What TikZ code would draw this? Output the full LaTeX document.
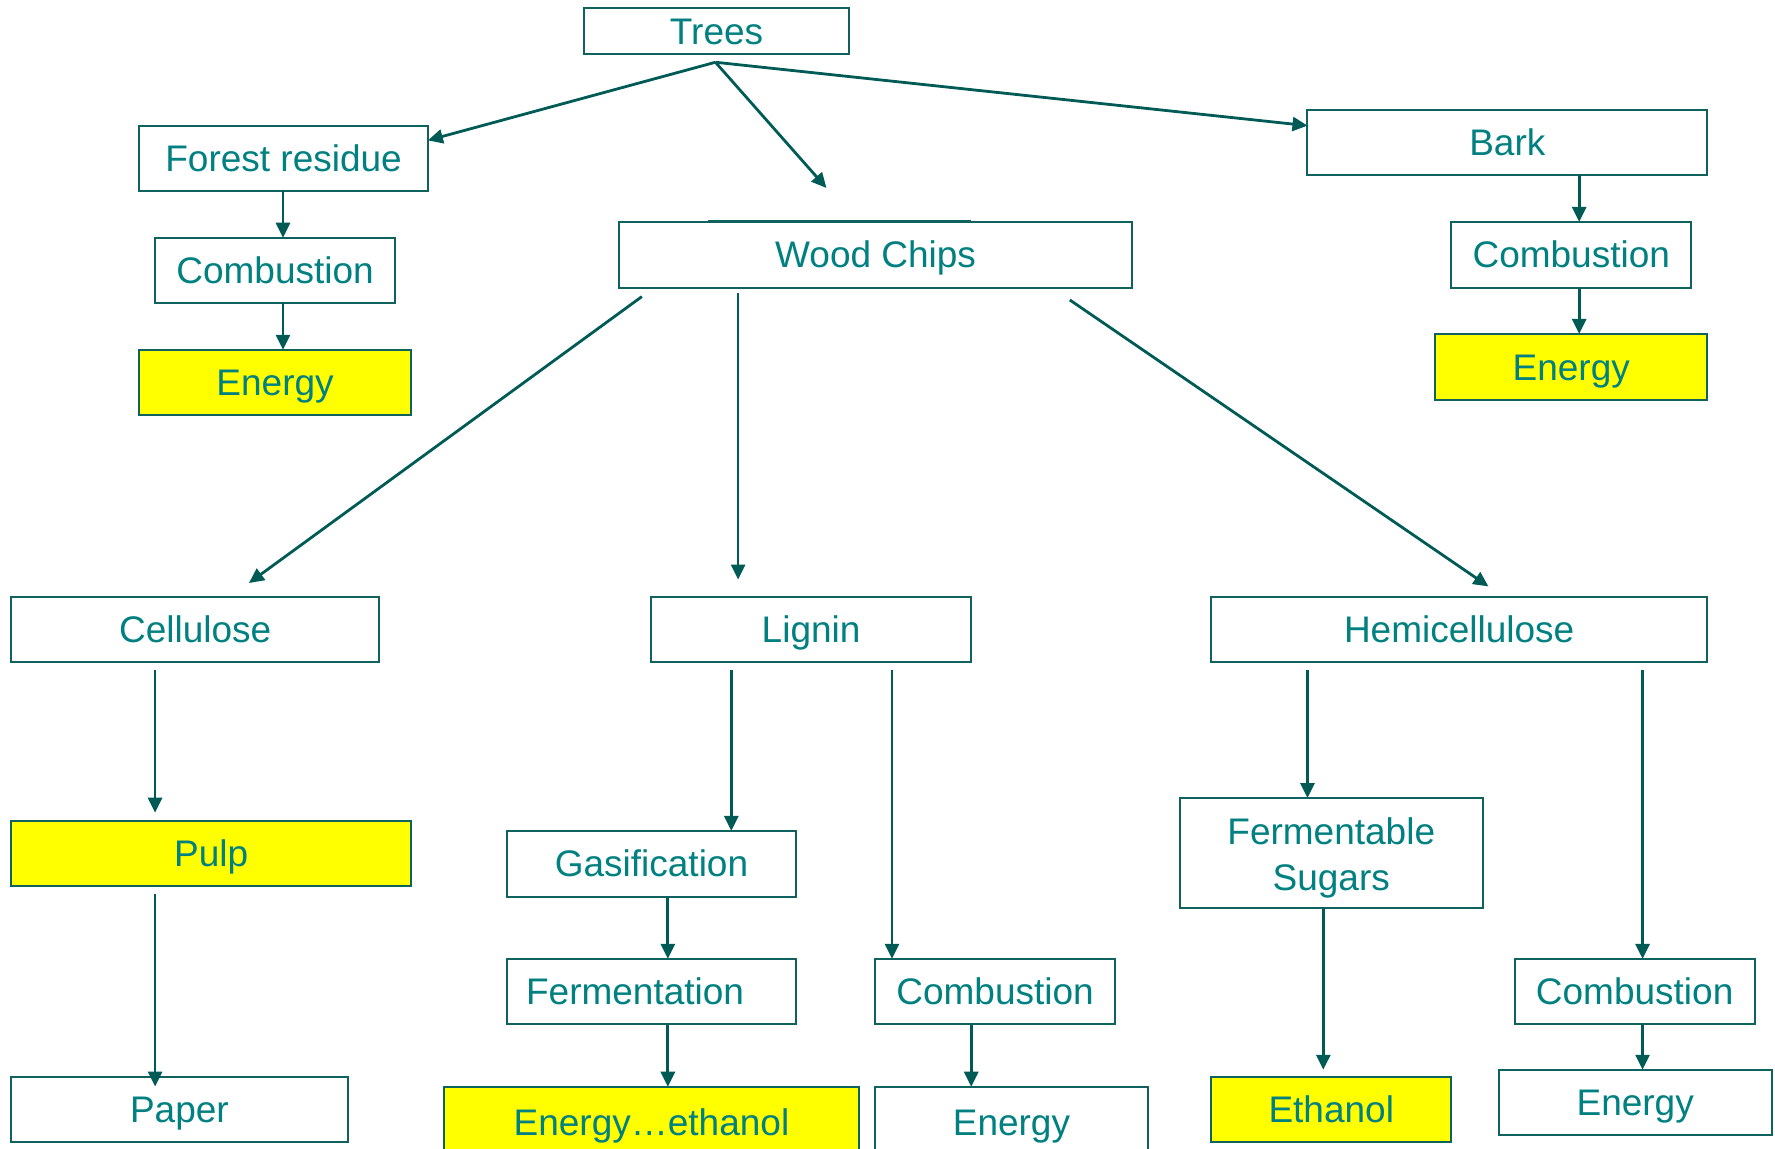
\documentclass[tikz,border=0pt]{standalone}
\usepackage{fontspec}
\setmainfont{Liberation Sans}
\usetikzlibrary{arrows.meta,calc}
\definecolor{txtc}{RGB}{0,128,128}
\definecolor{bordc}{RGB}{16,98,94}
\definecolor{arrc}{RGB}{0,90,86}
\definecolor{yel}{RGB}{255,255,0}
\newcommand\bx[7]{%
 \pgfmathsetmacro\cx{(#2+#4)/2}%
 \pgfmathsetmacro\cy{(#3+#5)/2}%
 \pgfmathsetmacro\ww{(#4-#2)*0.56601}%
 \pgfmathsetmacro\hh{(#5-#3)*0.56601}%
 \node[#6, minimum width=\ww pt, minimum height=\hh pt] (#1) at (\cx,\cy) {#7};}
\tikzset{
 box/.style={draw=bordc, line width=1pt, fill=white, inner sep=0pt, outer sep=0pt,
   text=txtc, text height=13.25pt, text depth=0pt},
 ybox/.style={box, fill=yel},
 arr/.style={draw=arrc, line width=1.4pt, -{Triangle[length=7.5pt,width=7pt]}},
}
\begin{document}
\begin{tikzpicture}[x=0.56601pt, y=-0.56601pt, font=\fontsize{18.5pt}{22.6pt}\selectfont]
\useasboundingbox (0,0) rectangle (1568,1015);
\clip (0,0) rectangle (1568,1015);
% nodes
\bx{trees}{516}{7}{750}{48}{box}{Trees}
\bx{fr}{123}{111}{378}{169}{box}{Forest residue}
\bx{fc}{137}{210}{349}{268}{box}{Combustion}
\bx{fe}{123}{309}{363}{367}{ybox}{Energy}
\bx{wc}{547}{196}{1000}{254}{box}{Wood Chips}
\bx{bark}{1155}{97}{1508}{155}{box}{Bark}
\bx{bc}{1282}{196}{1494}{254}{box}{Combustion}
\bx{be}{1268}{295}{1508}{353}{ybox}{Energy}
\bx{cell}{10}{527}{335}{585}{box}{Cellulose}
\bx{lig}{575}{527}{858}{585}{box}{Lignin}
\bx{hemi}{1070}{527}{1508}{585}{box}{Hemicellulose}
\bx{pulp}{10}{725}{363}{783}{ybox}{Pulp}
\bx{paper}{10}{951}{307}{1009}{box}{Paper}
\bx{gas}{448}{734}{703}{792}{box}{Gasification}
\bx{ferm}{448}{847}{703}{905}{box}{\hspace*{-16.4pt}Fermentation}
\bx{ee}{392}{960}{759}{1022}{ybox}{Energy…ethanol}
\bx{lcomb}{773}{847}{985}{905}{box}{Combustion}
\bx{le}{773}{960}{1014}{1022}{box}{Energy}
\bx{fs}{1042}{705}{1310}{802}{box, text height=15pt, text depth=23pt}{\begin{tabular}[t]{@{}c@{}}Fermentable\\Sugars\end{tabular}}
\bx{eth}{1070}{951}{1282}{1009}{ybox}{Ethanol}
\bx{hcomb}{1338}{847}{1550}{905}{box}{Combustion}
\bx{he}{1324}{945}{1565}{1003}{box}{Energy}
% thin artefact on top of Wood Chips
\draw[bordc, line width=0.8pt] ($(wc.north west)+(78,-1.2)$) -- ($(wc.north west)+(311,-1.2)$);
% column helpers
\coordinate (cFR) at (250,0);
\coordinate (cB) at (1395,0);
\coordinate (cL) at (652,0);
\coordinate (cC) at (137,0);
\coordinate (cG) at (646,0);
\coordinate (cLC) at (788,0);
\coordinate (cF) at (590,0);
\coordinate (cLE) at (858,0);
\coordinate (cH1) at (1155,0);
\coordinate (cH2) at (1169,0);
\coordinate (cH3) at (1451,0);
\coordinate (tfork) at ($(trees.south)+(-1,7)$);
% connectors from Trees
\draw[arr] (tfork) -- ($(fr.north east)+(0,13)$);
\draw[arr, shorten >=22.6pt] (tfork) -- ($(wc.north west)+(209.5,0)$);
\draw[arr] (tfork) -- ($(bark.north west)+(0,14)$);
% left and right chains
\draw[arr] (fr.south -| cFR) -- (fc.north -| cFR);
\draw[arr] (fc.south -| cFR) -- (fe.north -| cFR);
\draw[arr] (bark.south -| cB) -- (bc.north -| cB);
\draw[arr] (bc.south -| cB) -- (be.north -| cB);
% from Wood Chips
\draw[arr, shorten <=7.7pt, shorten >=11.5pt] ($(wc.south west)+(31,0)$) -- ($(cell.north west)+(193.5,0)$);
\draw[arr, shorten <=2.8pt, shorten >=8.5pt] (wc.south -| cL) -- (lig.north -| cL);
\draw[arr, shorten <=11pt, shorten >=9pt] ($(wc.south west)+(382,0)$) -- ($(hemi.north west)+(258,0)$);
% cellulose branch
\draw[arr, shorten <=4pt, shorten >=4pt] (cell.south -| cC) -- (pulp.north -| cC);
\draw[arr, shorten <=4pt, shorten >=-5pt] (pulp.south -| cC) -- (paper.north -| cC);
% lignin branch
\draw[arr, shorten <=4pt] (lig.south -| cG) -- (gas.north -| cG);
\draw[arr, shorten <=4pt] (lig.south -| cLC) -- (lcomb.north -| cLC);
\draw[arr] (gas.south -| cF) -- (ferm.north -| cF);
\draw[arr] (ferm.south -| cF) -- (ee.north -| cF);
\draw[arr] (lcomb.south -| cLE) -- (le.north -| cLE);
% hemicellulose branch
\draw[arr, shorten <=4pt] (hemi.south -| cH1) -- (fs.north -| cH1);
\draw[arr, shorten >=3.4pt] (fs.south -| cH2) -- (eth.north -| cH2);
\draw[arr, shorten <=4pt] (hemi.south -| cH3) -- (hcomb.north -| cH3);
\draw[arr] (hcomb.south -| cH3) -- (he.north -| cH3);
\end{tikzpicture}
\end{document}
